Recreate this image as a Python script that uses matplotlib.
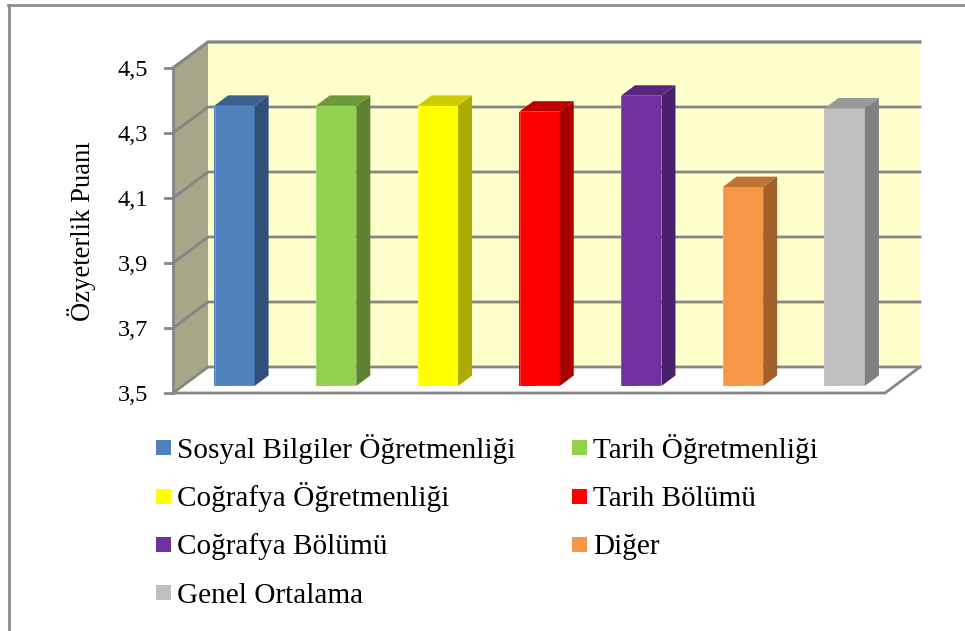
import matplotlib
matplotlib.use('Agg')
import matplotlib.pyplot as plt
from matplotlib.patches import Polygon, Rectangle
from matplotlib.transforms import ScaledTranslation

plt.rcParams['font.family'] = ['Liberation Serif', 'DejaVu Serif']

categories = ['Sosyal Bilgiler Öğretmenliği', 'Tarih Öğretmenliği',
              'Coğrafya Öğretmenliği', 'Tarih Bölümü',
              'Coğrafya Bölümü', 'Diğer', 'Genel Ortalama']
values = [4.362, 4.362, 4.362, 4.344, 4.393, 4.112, 4.354]
y_ticks = [3.5, 3.7, 3.9, 4.1, 4.3, 4.5]
y_labels = ['3,5', '3,7', '3,9', '4,1', '4,3', '4,5']
y_title = 'Özyeterlik Puanı'

front_colors = ['#4F81BD', '#92D050', '#FFFF00', '#FF0000', '#7030A0', '#F79646', '#BFBFBF']
side_colors = ['#30507A', '#5C8232', '#ABAB00', '#A60000', '#4A206C', '#A0602C', '#808080']
top_colors = ['#3A6090', '#6C9A3A', '#CCCC00', '#C00000', '#592680', '#BE7436', '#999999']

W, H = 965, 631
GRAY = '#868686'
LW = 2.0

fig = plt.figure(figsize=(W / 100, H / 100), dpi=100)

# axes = front plane of the 3d box, pixel box
left, right, top, bottom = 173, 885, 68, 393
ax = fig.add_axes([left / W, 1 - bottom / H, (right - left) / W, (bottom - top) / H])
ax.set_xlim(0, 7)
ax.set_ylim(3.5, 4.5)
ax.axis('off')

ux = (right - left) / 7
uy = bottom - top


def px(x, y, dx=0, dy=0):
    # shift a data point by some pixels
    return (x + dx / ux, y + dy / uy)


def poly(points, **kw):
    kw.setdefault('linewidth', 0)
    ax.add_patch(Polygon(points, closed=True, clip_on=False, **kw))


# depth of the box
dx, dy = 35, 26

poly([px(0, 3.5, dx, dy), px(7, 3.5, dx, dy), px(7, 4.5, dx, dy), px(0, 4.5, dx, dy)],
     facecolor='#FFFFCC', zorder=1)
poly([px(0, 3.5), px(0, 3.5, dx, dy), px(0, 4.5, dx, dy), px(0, 4.5)],
     facecolor='#A6A688', zorder=1)

for t, lab in zip(y_ticks, y_labels):
    xs, ys = zip(px(0, t), px(0, t, dx, dy), px(7, t, dx, dy))
    ax.plot(xs, ys, color=GRAY, lw=LW, clip_on=False, zorder=2, solid_joinstyle='miter')
    xs, ys = zip(px(0, t, -8, 0), px(0, t))
    ax.plot(xs, ys, color=GRAY, lw=LW, clip_on=False, zorder=2)
    # baseline placed by hand so the comma does not shift the label
    ax.text(*px(0, t, -25, -8), lab, ha='right', va='baseline', fontsize=17.6, color='black')

# axis lines
ax.plot([0, 0], [3.5, 4.5], color=GRAY, lw=LW, clip_on=False, zorder=3)
xs, ys = zip(px(0, 3.5), px(7, 3.5), px(7, 3.5, dx, dy))
ax.plot(xs, ys, color=GRAY, lw=LW, clip_on=False, zorder=3, solid_joinstyle='miter')
xs, ys = zip(px(0, 4.5), px(0, 4.5, dx, dy), px(7, 4.5, dx, dy))
ax.plot(xs, ys, color=GRAY, lw=LW, clip_on=False, zorder=3, solid_joinstyle='miter')

# bars, front face sits a bit inside the box
ox, oy = 10.5, 7
sx, sy = 14, 10.5
bar_w = 0.398
shift = ax.transData + ScaledTranslation(ox / 100, oy / 100, fig.dpi_scale_trans)

for i, v in enumerate(values):
    x0 = i + 0.5 - bar_w / 2
    x1 = i + 0.5 + bar_w / 2
    ax.bar(i + 0.5, v - 3.5, bottom=3.5, width=bar_w, color=front_colors[i], linewidth=0,
           zorder=5, clip_on=False, transform=shift)
    poly([px(x1, 3.5, ox, oy), px(x1, 3.5, ox + sx, oy + sy), px(x1, v, ox + sx, oy + sy), px(x1, v, ox, oy)],
         facecolor=side_colors[i], zorder=5)
    poly([px(x0, v, ox, oy), px(x1, v, ox, oy), px(x1, v, ox + sx, oy + sy), px(x0, v, ox + sx, oy + sy)],
         facecolor=top_colors[i], zorder=5)
    # thin light bevel on the left edge and the lower right of the front face
    xs, ys = zip(px(x0, 3.5, ox + 0.5, oy), px(x0, v, ox + 0.5, oy))
    ax.plot(xs, ys, color='white', alpha=0.2, lw=0.8, zorder=6, clip_on=False)
    xs, ys = zip(px(i + 0.5, 3.5, ox - 4, oy), px(x1, 3.5, ox, oy))
    ax.plot(xs, ys, color='white', alpha=0.7, lw=1.0, zorder=6, clip_on=False)

# y title
fig.text(81.5 / W, 1 - 231 / H, y_title, rotation=90, ha='center', va='center', fontsize=19.2)

# legend by hand, two columns
col_x = [156, 572]
row_y = [447.5, 496, 544, 592.5]
for i, name in enumerate(categories):
    lx = col_x[i % 2]
    ly = row_y[i // 2]
    fig.add_artist(Rectangle((lx / W, 1 - (ly + 7.5) / H), 15 / W, 15 / H, transform=fig.transFigure,
                             facecolor=front_colors[i], linewidth=0))
    fig.text((lx + 21) / W, 1 - (ly + 10.5) / H, name, ha='left', va='baseline', fontsize=21.1)

# outer frame, only top and left are visible
fig.add_artist(plt.Line2D([8.5 / W, 8.5 / W], [0, 1 - 5 / H], color='#8C8C8C', lw=LW))
fig.add_artist(plt.Line2D([8 / W, 1], [1 - 5 / H, 1 - 5 / H], color='#8C8C8C', lw=LW))

fig.savefig('out.png', dpi=100)
